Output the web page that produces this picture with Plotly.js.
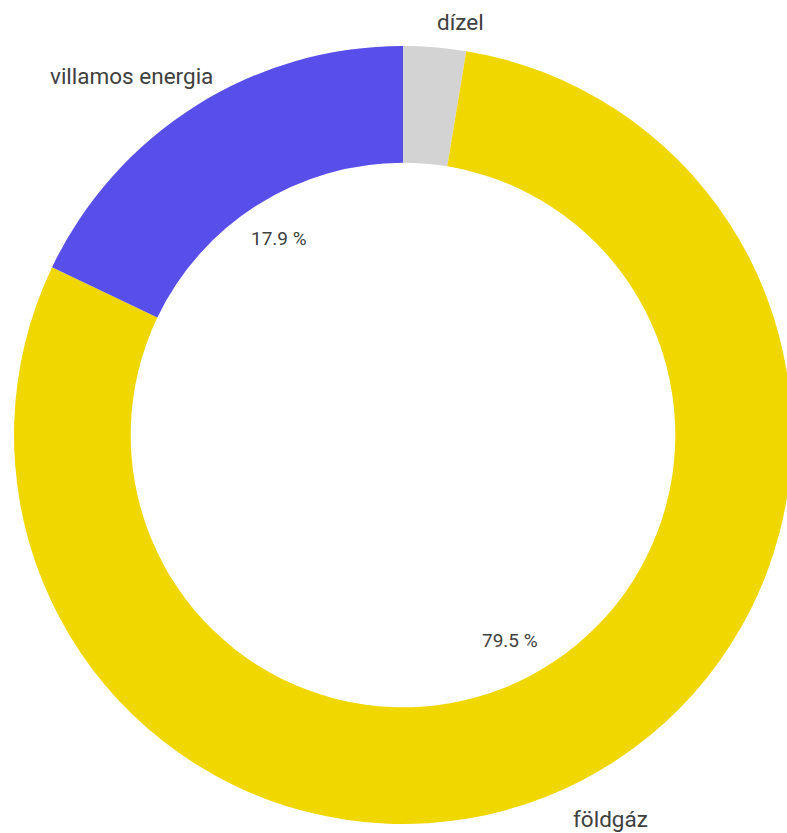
<!DOCTYPE html>
<html>
<head>
<meta charset="utf-8">
<script src="https://cdn.plot.ly/plotly-3.0.1.min.js"></script>
<style>
html,body{margin:0;padding:0;overflow:hidden;background:#fff;}
#chart{width:800px;height:833px;}
</style>
</head>
<body>
<div id="chart"></div>
<script>
const categories = ["dízel", "földgáz", "villamos energia"];
const shares = [2.6, 79.5, 17.9];
const pctLabels = ["", "79.5 %", "17.9 %"];
const colors = ["#D3D3D3", "#F1D700", "#584EEA"];

const L = 14, T = 46, W = 800, H = 833, S = 778;
const px2x = px => (px - L) / S;
const py2y = py => (T + S - py) / S;
const FONT = "Roboto, 'Open Sans', sans-serif";

// percentage labels placed at each slice's mid-angle inside the hole
const total = shares.reduce((a, b) => a + b, 0);
let cum = 0;
const annotations = [];
shares.forEach((v, i) => {
  const mid = (cum + v / 2) / total * 2 * Math.PI;
  cum += v;
  if (!pctLabels[i]) return;
  const r = 232 / S;
  annotations.push({
    xref: "paper", yref: "paper",
    x: 0.5 + r * Math.sin(mid), y: 0.5 + r * Math.cos(mid),
    text: pctLabels[i], showarrow: false,
    xanchor: "center", yanchor: "middle",
    font: {family: FONT, size: 19, color: "#404040"}
  });
});

// category name labels outside the ring
const namePos = [[460, 22], [610, 819], [131, 76]];
categories.forEach((c, i) => {
  annotations.push({
    xref: "paper", yref: "paper",
    x: px2x(namePos[i][0]), y: py2y(namePos[i][1]),
    text: c, showarrow: false,
    xanchor: "center", yanchor: "middle",
    font: {family: FONT, size: 22.5, color: "#404040"}
  });
});

const data = [{
  type: "pie",
  labels: categories,
  values: shares,
  hole: 0.70,
  sort: false,
  direction: "clockwise",
  rotation: 0,
  textinfo: "none",
  marker: {colors: colors, line: {color: "#ffffff", width: 0}},
  showlegend: false
}];

const layout = {
  width: W, height: H,
  margin: {l: L, r: W - L - S, t: T, b: H - T - S},
  paper_bgcolor: "#fff",
  annotations: annotations,
  showlegend: false
};

Plotly.newPlot("chart", data, layout, {displayModeBar: false, staticPlot: true});
</script>
</body>
</html>
